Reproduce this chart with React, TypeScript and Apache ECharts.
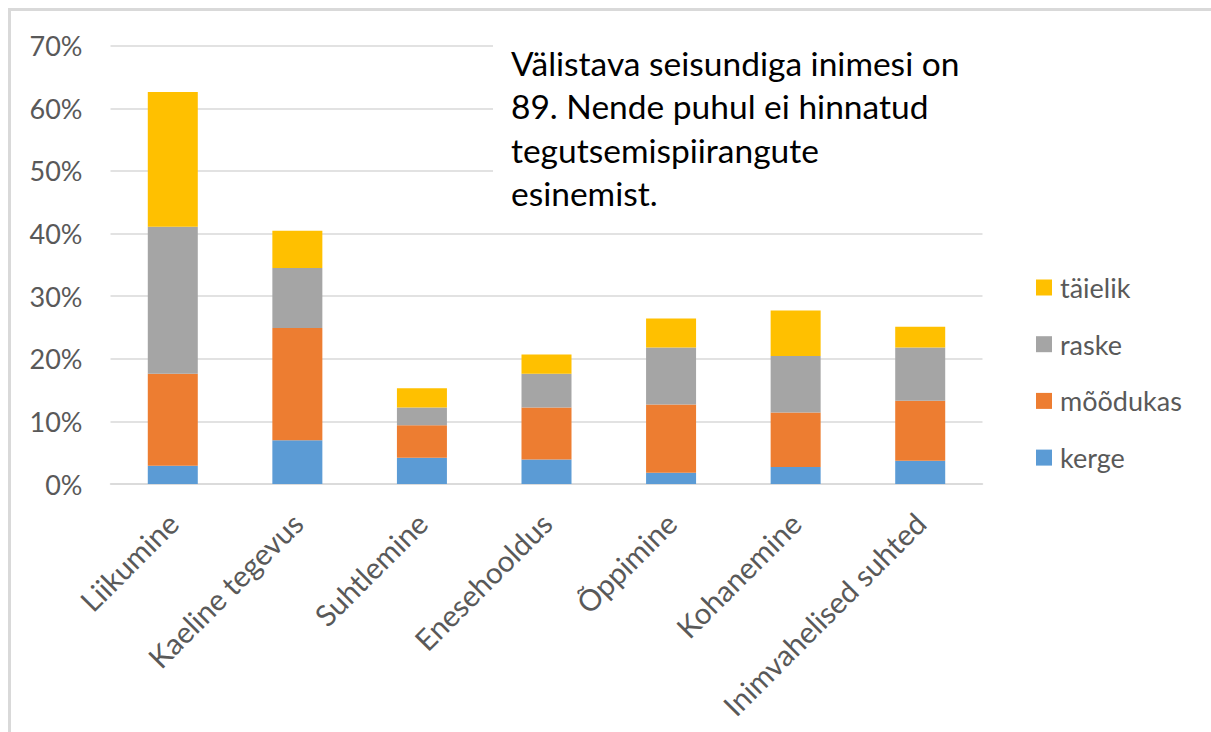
import React, { useEffect, useRef } from "react";
import * as echarts from "echarts";

const categories = [
  "Liikumine",
  "Kaeline tegevus",
  "Suhtlemine",
  "Enesehooldus",
  "Õppimine",
  "Kohanemine",
  "Inimvahelised suhted",
];
const kerge = [2.9, 7.0, 4.2, 3.9, 1.8, 2.7, 3.7];
const moodukas = [14.7, 17.9, 5.2, 8.3, 10.9, 8.7, 9.6];
const raske = [23.5, 9.6, 2.8, 5.4, 9.1, 9.05, 8.5];
const taielik = [21.5, 5.95, 3.1, 3.1, 4.65, 7.25, 3.3];
const seriesNames = ["kerge", "mõõdukas", "raske", "täielik"];
const legendOrder = ["täielik", "raske", "mõõdukas", "kerge"];
const colors = ["#5B9BD5", "#ED7D31", "#A5A5A5", "#FFC000"];
const note =
  "Välistava seisundiga inimesi on\n89. Nende puhul ei hinnatud\ntegutsemispiirangute\nesinemist.";

const FONT = "Lato";

export default function App() {
  const ref = useRef<HTMLDivElement>(null);
  useEffect(() => {
    if (!ref.current) return;
    const chart = echarts.init(ref.current, undefined, { renderer: "svg" });
    const values = [kerge, moodukas, raske, taielik];
    chart.setOption({
      animation: false,
      textStyle: { fontFamily: FONT },
      grid: { left: 99.5, top: 34.7, width: 872, height: 438.3, containLabel: false },
      legend: {
        data: legendOrder,
        orient: "vertical",
        left: 1020,
        top: 256.5,
        itemWidth: 16,
        itemHeight: 16,
        itemGap: 26.7,
        icon: "rect",
        textStyle: {
          fontFamily: FONT,
          fontSize: 27,
          color: "#595959",
          lineHeight: 30,
          padding: [0, 0, 0, 3],
        },
      },
      xAxis: {
        type: "category",
        data: categories,
        axisTick: { show: false },
        axisLine: { lineStyle: { color: "#d9d9d9", width: 1.5 } },
        axisLabel: {
          interval: 0,
          rotate: 45,
          margin: 34,
          color: "#595959",
          fontFamily: FONT,
          fontSize: 29.5,
        },
      },
      yAxis: {
        type: "value",
        min: 0,
        max: 70,
        interval: 10,
        axisLine: { show: false },
        axisTick: { show: false },
        splitLine: { lineStyle: { color: "#d9d9d9", width: 1.5 } },
        axisLabel: {
          formatter: "{value}%",
          margin: 28,
          color: "#595959",
          fontFamily: FONT,
          fontSize: 27,
        },
      },
      series: seriesNames.map((name, i) => ({
        name,
        type: "bar",
        stack: "total",
        barWidth: 50,
        data: values[i],
        itemStyle: { color: colors[i] },
      })),
      graphic: [
        {
          type: "rect",
          shape: { x: 482, y: 9, width: 492, height: 200 },
          style: { fill: "#ffffff" },
          z: 100,
        },
        {
          type: "text",
          x: 500,
          y: 30,
          z: 101,
          style: {
            text: note,
            fontFamily: FONT,
            fontSize: 33.5,
            lineHeight: 43.5,
            fill: "#000000",
          },
        },
      ],
    });
    return () => chart.dispose();
  }, []);
  return (
    <div
      style={{
        position: "absolute",
        left: 8,
        top: 8,
        width: 1203,
        height: 724,
        borderLeft: "3px solid #d9d9d9",
        borderTop: "3px solid #d9d9d9",
        boxSizing: "border-box",
        background: "#fff",
      }}
    >
      <div ref={ref} style={{ width: 1200, height: 721 }} />
    </div>
  );
}
